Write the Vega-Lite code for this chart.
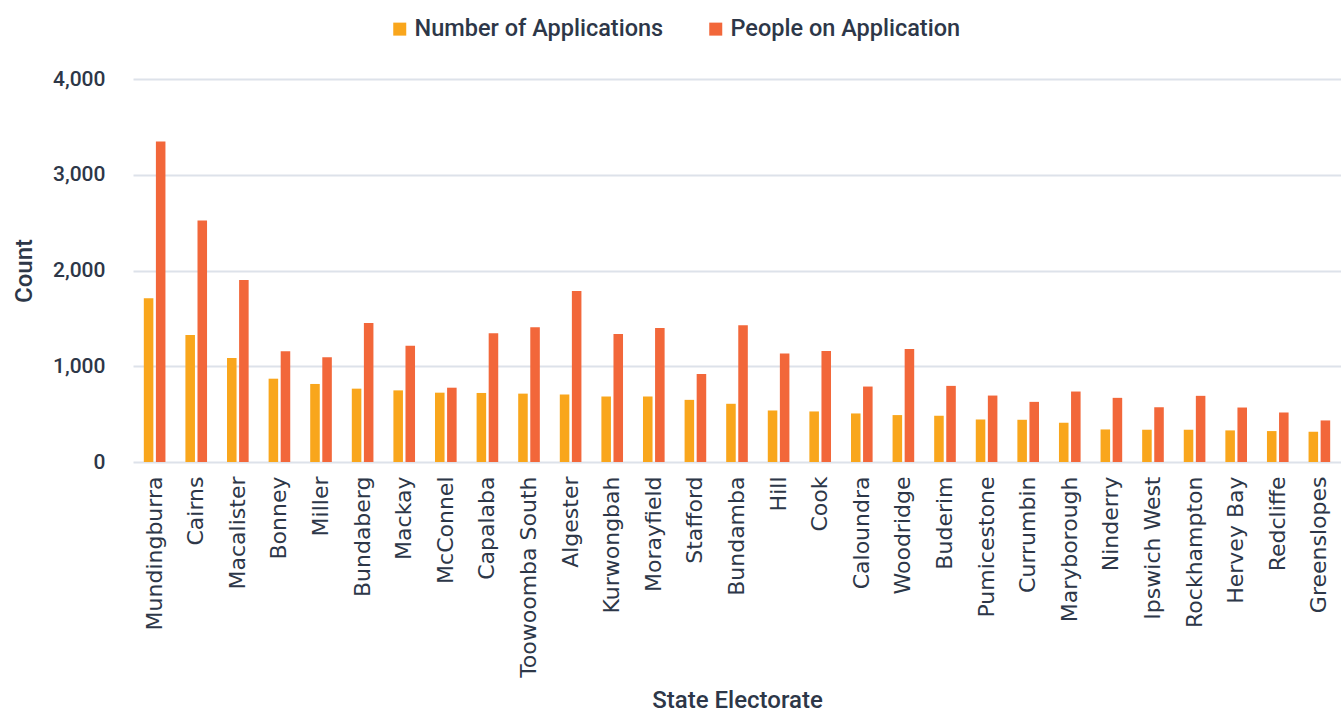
{
  "$schema": "https://vega.github.io/schema/vega-lite/v6.json",
  "width": 1208,
  "height": 383,
  "autosize": {"type": "none"},
  "padding": {"left": 133, "top": 79, "right": 0, "bottom": 251},
  "background": "white",
  "data": {
    "values": [
      {"electorate": "Mundingburra", "series": "Number of Applications", "count": 1710},
      {"electorate": "Mundingburra", "series": "People on Application", "count": 3347},
      {"electorate": "Cairns", "series": "Number of Applications", "count": 1327},
      {"electorate": "Cairns", "series": "People on Application", "count": 2521},
      {"electorate": "Macalister", "series": "Number of Applications", "count": 1087},
      {"electorate": "Macalister", "series": "People on Application", "count": 1902},
      {"electorate": "Bonney", "series": "Number of Applications", "count": 870},
      {"electorate": "Bonney", "series": "People on Application", "count": 1156},
      {"electorate": "Miller", "series": "Number of Applications", "count": 815},
      {"electorate": "Miller", "series": "People on Application", "count": 1093},
      {"electorate": "Bundaberg", "series": "Number of Applications", "count": 766},
      {"electorate": "Bundaberg", "series": "People on Application", "count": 1452},
      {"electorate": "Mackay", "series": "Number of Applications", "count": 748},
      {"electorate": "Mackay", "series": "People on Application", "count": 1215},
      {"electorate": "McConnel", "series": "Number of Applications", "count": 724},
      {"electorate": "McConnel", "series": "People on Application", "count": 776},
      {"electorate": "Capalaba", "series": "Number of Applications", "count": 721},
      {"electorate": "Capalaba", "series": "People on Application", "count": 1344},
      {"electorate": "Toowoomba South", "series": "Number of Applications", "count": 714},
      {"electorate": "Toowoomba South", "series": "People on Application", "count": 1407},
      {"electorate": "Algester", "series": "Number of Applications", "count": 705},
      {"electorate": "Algester", "series": "People on Application", "count": 1785},
      {"electorate": "Kurwongbah", "series": "Number of Applications", "count": 684},
      {"electorate": "Kurwongbah", "series": "People on Application", "count": 1337},
      {"electorate": "Morayfield", "series": "Number of Applications", "count": 684},
      {"electorate": "Morayfield", "series": "People on Application", "count": 1399},
      {"electorate": "Stafford", "series": "Number of Applications", "count": 649},
      {"electorate": "Stafford", "series": "People on Application", "count": 920},
      {"electorate": "Bundamba", "series": "Number of Applications", "count": 608},
      {"electorate": "Bundamba", "series": "People on Application", "count": 1427},
      {"electorate": "Hill", "series": "Number of Applications", "count": 538},
      {"electorate": "Hill", "series": "People on Application", "count": 1132},
      {"electorate": "Cook", "series": "Number of Applications", "count": 528},
      {"electorate": "Cook", "series": "People on Application", "count": 1160},
      {"electorate": "Caloundra", "series": "Number of Applications", "count": 507},
      {"electorate": "Caloundra", "series": "People on Application", "count": 788},
      {"electorate": "Woodridge", "series": "Number of Applications", "count": 490},
      {"electorate": "Woodridge", "series": "People on Application", "count": 1181},
      {"electorate": "Buderim", "series": "Number of Applications", "count": 483},
      {"electorate": "Buderim", "series": "People on Application", "count": 795},
      {"electorate": "Pumicestone", "series": "Number of Applications", "count": 444},
      {"electorate": "Pumicestone", "series": "People on Application", "count": 694},
      {"electorate": "Currumbin", "series": "Number of Applications", "count": 441},
      {"electorate": "Currumbin", "series": "People on Application", "count": 628},
      {"electorate": "Maryborough", "series": "Number of Applications", "count": 410},
      {"electorate": "Maryborough", "series": "People on Application", "count": 736},
      {"electorate": "Ninderry", "series": "Number of Applications", "count": 340},
      {"electorate": "Ninderry", "series": "People on Application", "count": 670},
      {"electorate": "Ipswich West", "series": "Number of Applications", "count": 337},
      {"electorate": "Ipswich West", "series": "People on Application", "count": 573},
      {"electorate": "Rockhampton", "series": "Number of Applications", "count": 337},
      {"electorate": "Rockhampton", "series": "People on Application", "count": 691},
      {"electorate": "Hervey Bay", "series": "Number of Applications", "count": 330},
      {"electorate": "Hervey Bay", "series": "People on Application", "count": 569},
      {"electorate": "Redcliffe", "series": "Number of Applications", "count": 323},
      {"electorate": "Redcliffe", "series": "People on Application", "count": 517},
      {"electorate": "Greenslopes", "series": "Number of Applications", "count": 316},
      {"electorate": "Greenslopes", "series": "People on Application", "count": 434}
    ]
  },
  "mark": {"type": "bar"},
  "encoding": {
    "x": {
      "field": "electorate",
      "type": "nominal",
      "sort": null,
      "scale": {"paddingInner": 0.48, "paddingOuter": 0.26},
      "axis": {
        "title": "State Electorate",
        "titleFont": "Roboto",
        "titleFontSize": 24,
        "titleFontWeight": 500,
        "titleColor": "#2d3748",
        "titlePadding": 26,
        "labelFont": "DejaVu Sans",
        "labelFontSize": 22,
        "labelColor": "#2d3748",
        "labelAngle": -90,
        "labelPadding": 14,
        "labelLimit": 0,
        "ticks": false,
        "domain": false,
        "grid": false
      }
    },
    "xOffset": {
      "field": "series",
      "type": "nominal",
      "scale": {"paddingInner": 0.21, "paddingOuter": 0}
    },
    "y": {
      "field": "count",
      "type": "quantitative",
      "scale": {"domain": [0, 4000]},
      "axis": {
        "title": "Count",
        "titleFont": "Roboto",
        "titleFontSize": 24,
        "titleFontWeight": 500,
        "titleColor": "#2d3748",
        "titlePadding": 16,
        "labelFont": "Roboto",
        "labelFontSize": 21,
        "labelFontWeight": 500,
        "labelColor": "#2d3748",
        "labelPadding": 28,
        "values": [0, 1000, 2000, 3000, 4000],
        "format": ",.0f",
        "ticks": false,
        "domain": false,
        "grid": true,
        "gridColor": "#dde2ea",
        "gridWidth": 2
      }
    },
    "color": {
      "field": "series",
      "type": "nominal",
      "scale": {
        "domain": ["Number of Applications", "People on Application"],
        "range": ["#f9a61c", "#f2673a"]
      },
      "legend": {
        "title": null,
        "orient": "none",
        "legendX": 255,
        "legendY": -62,
        "direction": "horizontal",
        "symbolType": "square",
        "symbolSize": 169,
        "symbolStrokeWidth": 0,
        "labelFont": "Roboto",
        "labelFontSize": 23.5,
        "labelFontWeight": 500,
        "labelColor": "#2d3748",
        "labelOffset": 3,
        "labelLimit": 0,
        "columnPadding": 40
      }
    }
  },
  "config": {"view": {"stroke": null}}
}
